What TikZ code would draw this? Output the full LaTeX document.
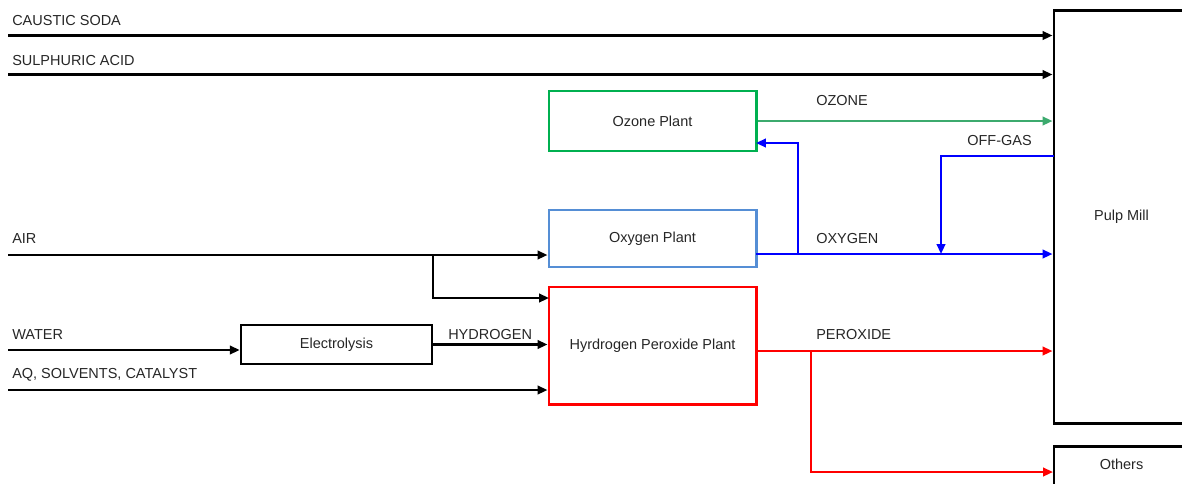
\documentclass[tikz,border=0pt]{standalone}
\usepackage{fontspec}
\setmainfont{Liberation Sans}
\usepackage{xcolor}
\usepackage{tikz}
\usetikzlibrary{arrows.meta}
\usetikzlibrary{positioning}

\definecolor{verdeozono}{RGB}{0,176,80}
\definecolor{verdeflecha}{RGB}{60,170,110}
\definecolor{azuloxigeno}{RGB}{85,142,213}
\definecolor{azulfuerte}{RGB}{0,0,255}
\definecolor{rojo}{RGB}{255,0,0}

\begin{document}
\begin{tikzpicture}[x=0.025cm, y=-0.025cm, font=\fontsize{10.3}{12}\selectfont,
  planta/.style={draw, line width=2.1pt, minimum width=5.175cm, text=black!85},
  caja/.style={draw, line width=1.8pt, text=black!85},
  flecha/.style={line width=1.6pt, -{Triangle[length=7pt, width=6pt]}},
  etiqueta/.style={anchor=base west, inner sep=0, text=black!85}]

\useasboundingbox (0,0) rectangle (1182,483);

% Nodos simples
\node[planta, draw=verdeozono, minimum height=1.5cm] (ozono) at (652.5,121) {Ozone Plant};
\node[planta, draw=azuloxigeno, minimum height=1.425cm] (oxigeno) at (652.5,238.5) {Oxygen Plant};
\node[planta, draw=rojo, minimum height=2.925cm] (peroxido) at (652.5,345.5) {Hyrdrogen Peroxide Plant};
\node[caja, minimum width=4.775cm, minimum height=0.975cm] (electrolisis) at (336.5,344.5) {Electrolysis};
\node[caja, line width=2.1pt, minimum width=3.375cm, minimum height=10.3cm] (pulpa) at (1121.5,217) {Pulp Mill};
\node[caja, line width=2.1pt, anchor=north, inner sep=0, minimum width=3.375cm,
      text height=0.575cm, text depth=1.25cm] (otros) at (1121.5,445) {Others};

% Puntos libres
\coordinate (sosa) at (8,35.5);
\coordinate (acido) at (8,74.5);
\coordinate (aire) at (8,255);
\coordinate (bifaire) at (433,255);
\coordinate (entaire) at (549,298);
\coordinate (agua) at (8,350);
\coordinate (aq) at (8,390);
\coordinate (salox) at (756,254);
\coordinate (bifox) at (798,254);
\coordinate (entozono) at (756,143);
\coordinate (salgas) at (1054,156);
\coordinate (bajgas) at (941,254);
\coordinate (salper) at (756,351);
\coordinate (bifper) at (811,351);
\coordinate (entotros) at (1053,472);

% Aristas simples
\draw[flecha] (sosa) -- (sosa -| pulpa.west);
\draw[flecha] (acido) -- (acido -| pulpa.west);
\draw[flecha] (aire) -- (aire -| oxigeno.west);
\draw[flecha] (bifaire) |- (entaire);
\draw[flecha] (agua) -- (agua -| electrolisis.west);
\draw[flecha] (electrolisis.east) -- (electrolisis.east -| peroxido.west);
\draw[flecha] (aq) -- (aq -| peroxido.west);
\draw[flecha, verdeflecha] (ozono.east) -- (ozono.east -| pulpa.west);
\draw[flecha, azulfuerte] (salox) -- (salox -| pulpa.west);
\draw[flecha, azulfuerte] (bifox) |- (entozono);
\draw[flecha, azulfuerte] (salgas) -| (bajgas);
\draw[flecha, rojo] (salper) -- (salper -| pulpa.west);
\draw[flecha, rojo] (bifper) |- (entotros);

% Etiquetas
\node[etiqueta] (tsosa) at (12,25) {CAUSTIC SODA};
\node[etiqueta] (tacido) at (12,65) {SULPHURIC ACID};
\node[etiqueta] (taire) at (12,243) {AIR};
\node[etiqueta] (tagua) at (12,339) {WATER};
\node[etiqueta] (taq) at (12,378) {AQ, SOLVENTS, CATALYST};
\node[etiqueta] (thidrogeno) at (448,339) {HYDROGEN};
\node[etiqueta] (tozono) at (816,105) {OZONE};
\node[etiqueta] (tgas) at (967,145) {OFF-GAS};
\node[etiqueta] (toxigeno) at (816,243) {OXYGEN};
\node[etiqueta] (tperoxido) at (816,339) {PEROXIDE};

\end{tikzpicture}
\end{document}
